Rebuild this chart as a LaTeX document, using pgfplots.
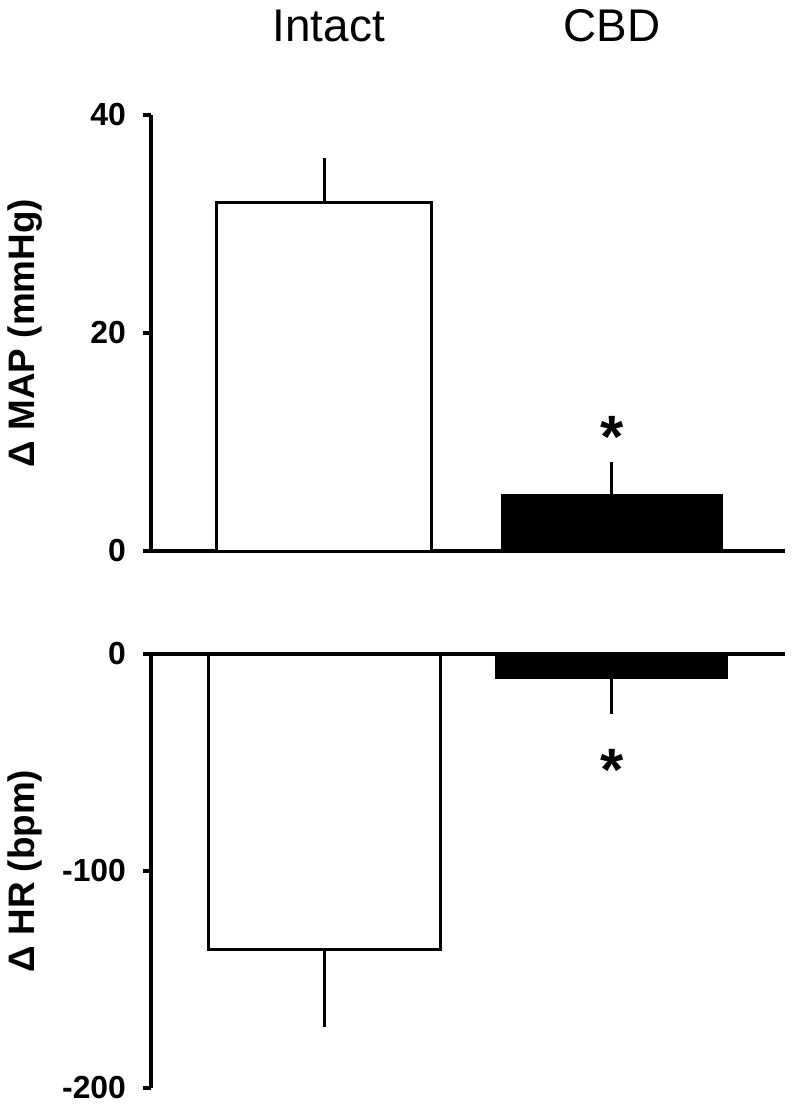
\documentclass[border=0pt]{standalone}
\usepackage{pgfplots}
\pgfplotsset{compat=1.18}
\usepackage{fontspec}
\setmainfont{Liberation Sans}
\begin{document}
\begin{tikzpicture}
\path[use as bounding box] (-75.5bp,-278bp) rectangle (320.5bp,275.5bp);
\pgfplotsset{
 myax/.style={
  scale only axis, width=317bp,
  xmin=-0.603, xmax=1.602,
  xtick=\empty,
  axis line style={line width=2bp,-},
  ytick style={line width=2bp, black},
  tick align=outside, major tick length=4bp,
  yticklabel style={font=\fontsize{16}{16}\selectfont\bfseries, xshift=-5bp},
  /pgf/number format/assume math mode=true,
  ylabel style={font=\fontsize{18.5}{18.5}\selectfont\bfseries, at={(axis description cs:-0.199,0.5)}, anchor=center},
  clip=false,
  ybar, bar shift=0pt,
 }
}
% top panel
\begin{axis}[myax, height=218bp, at={(0,0)},
  axis x line*=bottom, axis y line*=left,
  ymin=0, ymax=40, ytick={0,20,40},
  ylabel={Δ MAP (mmHg)}]
\addplot[fill=white, draw=black, line width=1.5bp, bar width=0.748,
  error bars/.cd, y dir=plus, y explicit, error mark=none,
  error bar style={line width=1.5bp, black}]
  coordinates {(0,32) +- (0,4.1)};
\addplot[fill=black, draw=black, line width=1.5bp, bar width=0.762,
  error bars/.cd, y dir=plus, y explicit, error mark=none,
  error bar style={line width=1.5bp, black}]
  coordinates {(1,5.1) +- (0,3.1)};
\node[anchor=base, font=\fontsize{30}{30}\selectfont\bfseries] at (axis cs:1,8.6) {*};
\node[anchor=base, font=\fontsize{23}{23}\selectfont] at (axis cs:0.015,46.7) {Intact};
\node[anchor=base, font=\fontsize{23}{23}\selectfont] at (axis cs:1.0,46.7) {CBD};
\end{axis}
% bottom panel
\begin{axis}[myax, height=217bp, at={(0,-268.5bp)},
  axis x line*=top, axis y line*=left,
  ymin=-200, ymax=0, ytick={-200,-100,0},
  ylabel={Δ HR (bpm)}]
\addplot[fill=white, draw=black, line width=1.5bp, bar width=0.807,
  error bars/.cd, y dir=minus, y explicit, error mark=none,
  error bar style={line width=1.5bp, black}]
  coordinates {(0,-136.4) +- (0,35.5)};
\addplot[fill=black, draw=black, line width=1.5bp, bar width=0.80,
  error bars/.cd, y dir=minus, y explicit, error mark=none,
  error bar style={line width=1.5bp, black}]
  coordinates {(1,-10.6) +- (0,17)};
\node[anchor=base, font=\fontsize{30}{30}\selectfont\bfseries] at (axis cs:1,-62.7) {*};
\end{axis}
\end{tikzpicture}
\end{document}
